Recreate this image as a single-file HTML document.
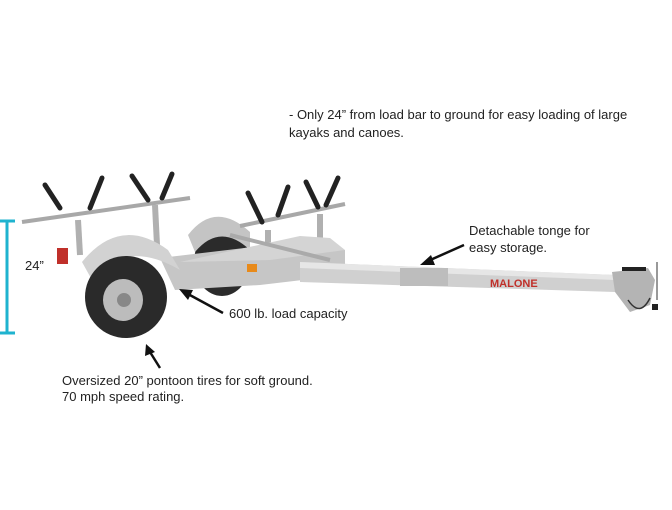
<!DOCTYPE html>
<html><head><meta charset="utf-8"><style>
html,body{margin:0;padding:0;background:#fff;}
body{width:672px;height:510px;position:relative;overflow:hidden;font-family:"Liberation Sans",sans-serif;color:#222;}
.t{position:absolute;font-size:13px;line-height:17px;white-space:nowrap;}
svg{position:absolute;left:0;top:0;}
</style></head><body>
<svg width="672" height="510" viewBox="0 0 672 510">
  <g stroke="#1fb3cf" stroke-width="3" fill="none">
    <line x1="7" y1="221" x2="7" y2="333"/>
    <line x1="0" y1="221" x2="15" y2="221"/>
    <line x1="0" y1="333" x2="15" y2="333"/>
  </g>
  <!-- rear wheel -->
  <ellipse cx="222" cy="262" rx="28" ry="34" fill="#2b2b2b"/>
  <path d="M188 235 Q215 200 250 232 L250 250 Q220 222 195 252 Z" fill="#c4c4c4"/>
  <!-- upper bars -->
  <g stroke="#a8a8a8" stroke-width="4" fill="none">
    <line x1="22" y1="222" x2="190" y2="198"/>
    <line x1="240" y1="226" x2="345" y2="204"/>
  </g>
  <g stroke="#b0b0b0" stroke-width="6">
    <line x1="78" y1="220" x2="80" y2="255"/>
    <line x1="155" y1="205" x2="157" y2="245"/>
    <line x1="268" y1="230" x2="268" y2="270"/>
    <line x1="320" y1="214" x2="320" y2="262"/>
  </g>
  <!-- frame -->
  <polygon points="160,258 270,245 345,250 345,275 260,285 175,290" fill="#c6c6c6"/>
  <polygon points="180,262 300,236 330,238 345,250 270,260" fill="#d4d4d4"/>
  <line x1="230" y1="235" x2="330" y2="260" stroke="#aaa" stroke-width="4"/>
  <!-- tongue -->
  <polygon points="300,262 615,275 615,292 300,282" fill="#d0d0d0"/>
  <polygon points="300,262 615,275 615,280 300,268" fill="#e6e6e6"/>
  <rect x="400" y="268" width="48" height="18" fill="#bdbdbd"/>
  <!-- coupler -->
  <path d="M612 272 L648 268 L655 280 L650 305 L630 312 L615 292 Z" fill="#b4b4b4"/>
  <rect x="622" y="267" width="24" height="4" fill="#222"/>
  <line x1="657" y1="262" x2="657" y2="300" stroke="#999" stroke-width="2"/>
  <path d="M628 300 Q640 318 650 298" stroke="#333" fill="none" stroke-width="1.5"/>
  <rect x="652" y="304" width="6" height="6" fill="#222"/>
  <!-- front fender -->
  <path d="M82 262 Q120 215 168 250 L180 270 Q125 238 92 280 Z" fill="#d2d2d2"/>
  <rect x="57" y="248" width="11" height="16" fill="#c0302a"/>
  <rect x="247" y="264" width="10" height="8" fill="#e88a1a"/>
  <!-- front wheel -->
  <ellipse cx="126" cy="297" rx="41" ry="41" fill="#2a2a2a"/>
  <ellipse cx="123" cy="300" rx="20" ry="21" fill="#bcbcbc"/>
  <circle cx="124" cy="300" r="7" fill="#888"/>
  <!-- racks -->
  <g stroke="#222" stroke-width="5" stroke-linecap="round" fill="none">
    <path d="M45 185 L60 208"/><path d="M102 178 L90 208"/>
    <path d="M132 176 L148 200"/><path d="M172 174 L162 198"/>
    <path d="M248 193 L262 222"/><path d="M288 187 L278 215"/>
    <path d="M306 182 L318 207"/><path d="M338 178 L326 205"/>
  </g>
  <!-- arrows -->
  <g stroke="#111" stroke-width="2.5" fill="#111">
    <line x1="464" y1="245" x2="428" y2="261"/>
    <polygon points="420,265 431,255 435,265" stroke="none"/>
    <line x1="223" y1="313" x2="188" y2="294"/>
    <polygon points="179,289 193,290 188,300" stroke="none"/>
    <line x1="160" y1="368" x2="150" y2="352"/>
    <polygon points="146,344 155,352 145,356" stroke="none"/>
  </g>
  <text x="490" y="287" font-family="Liberation Sans,sans-serif" font-weight="bold" font-size="11" fill="#c0302a">MALONE</text>
</svg>
<div class="t" style="left:289px;top:106px;">- Only 24” from load bar to ground for easy loading of large</div>
<div class="t" style="left:289px;top:124px;">kayaks and canoes.</div>
<div class="t" style="left:469px;top:222px;">Detachable tonge for</div>
<div class="t" style="left:469px;top:239px;">easy storage.</div>
<div class="t" style="left:25px;top:257px;">24”</div>
<div class="t" style="left:229px;top:305px;">600 lb. load capacity</div>
<div class="t" style="left:62px;top:372px;">Oversized 20” pontoon tires for soft ground.</div>
<div class="t" style="left:62px;top:388px;">70 mph speed rating.</div>
</body></html>
